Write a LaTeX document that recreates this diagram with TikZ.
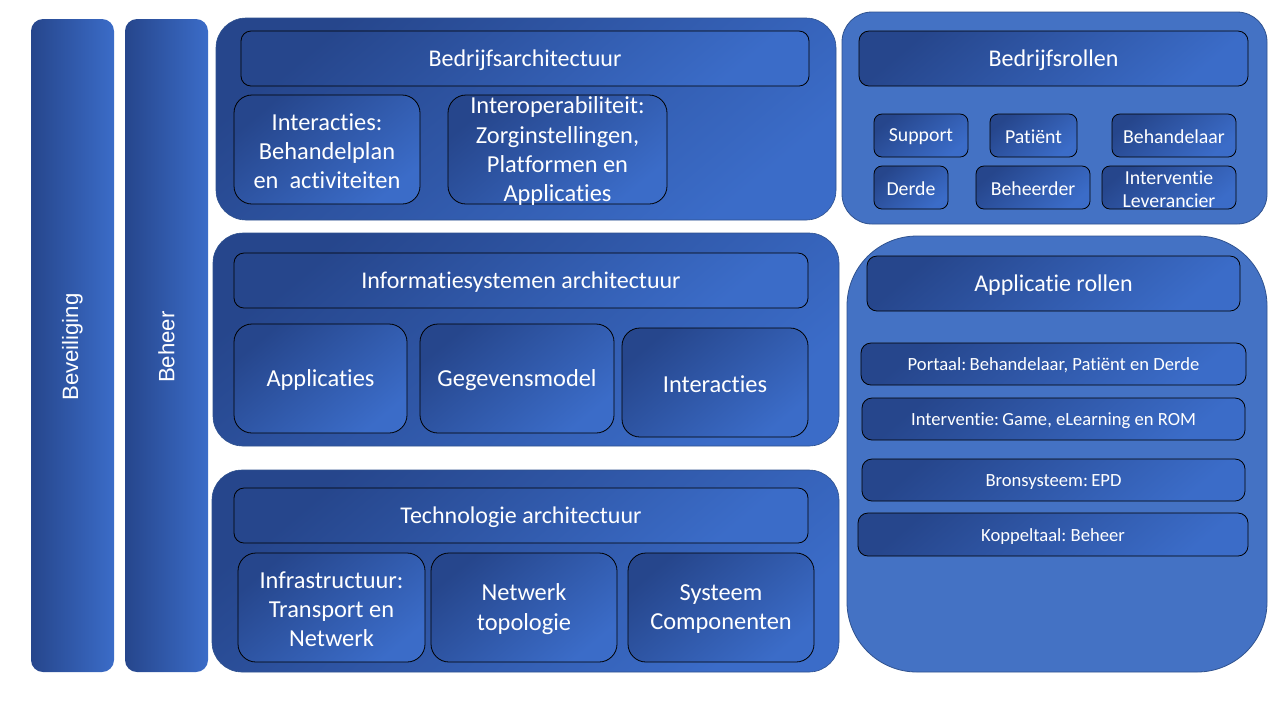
\documentclass[tikz,border=0pt]{standalone}
\usepackage{fontspec}
\setmainfont{Carlito}[Ligatures=NoCommon]
\newfontfamily\barfont{Liberation Sans}
\usetikzlibrary{fit}
\frenchspacing
\definecolor{gdark}{HTML}{26468C}
\definecolor{glight}{HTML}{3B6CC8}
\definecolor{flat}{HTML}{4472C4}
\definecolor{edge}{HTML}{2F528F}
\tikzset{
  grad/.style={top color=gdark, bottom color=glight, shading angle=40},
  basebox/.style={inner sep=0pt, outer sep=0pt},
  bar/.style={basebox, left color=gdark, right color=glight, draw=none, rounded corners=6pt},
  panel/.style={basebox, grad, draw=edge, line width=0.3pt, rounded corners=15pt},
  flatpanel/.style={basebox, fill=flat, draw=edge, line width=0.4pt, rounded corners=15pt},
  hdr/.style={basebox, grad, draw=black, line width=0.4pt, rounded corners=5pt},
  inbox/.style={basebox, grad, draw=black, line width=0.4pt, rounded corners=9pt},
  smallbox/.style={basebox, grad, draw=black, line width=0.4pt, rounded corners=4pt},
  rolebox/.style={basebox, grad, draw=black, line width=0.4pt, rounded corners=5pt},
  txt/.style={text=white, align=center, inner sep=0pt, yshift=-0.8pt},
  hdrtxt/.style={txt, font=\fontsize{12}{14}\selectfont},
  intxt/.style={txt, font=\fontsize{12.2}{14.6}\selectfont},
  smalltxt/.style={txt, font=\fontsize{9.9}{11.2}\selectfont},
  roletxt/.style={txt, font=\fontsize{9.3}{11}\selectfont},
  bartext/.style={txt, yshift=0pt, rotate=90, font=\barfont\fontsize{11.1}{13}\selectfont},
}
% #1 shape style, #2 name, #3-#6 corners, #7 text style, #8 text
\newcommand{\bx}[8]{%
  \node[#1, fit={(#3,#4) (#5,#6)}] (#2) {};
  \node[#7] (#2-t) at (#2.center) {#8};}
\begin{document}
\begin{tikzpicture}[x=0.5pt, y=-0.5pt]
\useasboundingbox[fill=white] (0,0) rectangle (1280,720);
% side bars
\bx{bar}{bev}{31}{19}{114}{672}{bartext}{Beveiliging}
\bx{bar}{beh}{125}{19}{208}{672}{bartext}{Beheer}
% Bedrijfsarchitectuur
\node[panel, fit={(216,18) (836,220)}] (pba) {};
\bx{hdr}{hba}{241}{31}{809}{86}{hdrtxt}{Bedrijfsarchitectuur}
\bx{inbox}{ba1}{234}{95}{420}{204}{intxt}{Interacties:\\Behandelplan\\en\ \ activiteiten}
\bx{inbox}{ba2}{448}{95}{667}{204}{intxt}{Interoperabiliteit:\\Zorginstellingen,\\Platformen en\\Applicaties}
% Informatiesystemen
\node[panel, fit={(213,233) (839,446)}] (pis) {};
\bx{hdr}{his}{234}{253}{808}{308}{hdrtxt}{Informatiesystemen architectuur}
\bx{inbox}{is1}{234}{324}{407}{433}{intxt}{Applicaties}
\bx{inbox}{is2}{420}{324}{614}{433}{intxt}{Gegevensmodel}
\bx{inbox}{is3}{622}{328}{808}{437}{intxt}{Interacties}
% Technologie
\node[panel, fit={(212,470) (839,672)}] (pta) {};
\bx{hdr}{hta}{234}{488}{808}{543}{hdrtxt}{Technologie architectuur}
\bx{inbox}{ta1}{238}{553}{425}{662}{intxt}{Infrastructuur:\\Transport en\\Netwerk}
\bx{inbox}{ta2}{431}{553}{617}{662}{intxt}{Netwerk\\topologie}
\bx{inbox}{ta3}{628}{553}{814}{662}{intxt}{Systeem\\Componenten}
% Bedrijfsrollen
\node[flatpanel, fit={(842,12) (1267,224)}] (pbr) {};
\bx{hdr}{hbr}{859}{31}{1248}{86}{hdrtxt}{Bedrijfsrollen}
\bx{smallbox}{br1}{874}{114}{968}{157}{smalltxt}{Support}
\bx{smallbox}{br2}{990}{114}{1077}{157}{smalltxt}{Patiënt}
\bx{smallbox}{br3}{1112}{114}{1236}{157}{smalltxt}{Behandelaar}
\bx{smallbox}{br4}{874}{166}{948}{209}{smalltxt}{Derde}
\bx{smallbox}{br5}{976}{166}{1090}{209}{smalltxt}{Beheerder}
\bx{smallbox}{br6}{1102}{166}{1236}{209}{smalltxt}{Interventie\\Leverancier}
% Applicatie rollen
\node[flatpanel, rounded corners=35pt, fit={(847,236) (1267,672)}] (par) {};
\bx{hdr}{har}{867}{256}{1240}{311}{hdrtxt}{Applicatie rollen}
\bx{rolebox}{ar1}{861}{343}{1246}{385}{roletxt}{Portaal:\hspace{0.18em}Behandelaar, Patiënt en Derde}
\bx{rolebox}{ar2}{862}{398}{1245}{440}{roletxt}{Interventie:\hspace{0.18em}Game, eLearning en ROM}
\bx{rolebox}{ar3}{862}{459}{1245}{501}{roletxt}{Bronsysteem:\hspace{0.18em}EPD}
\bx{rolebox}{ar4}{858}{513}{1248}{556}{roletxt}{Koppeltaal: Beheer}
\end{tikzpicture}
\end{document}
